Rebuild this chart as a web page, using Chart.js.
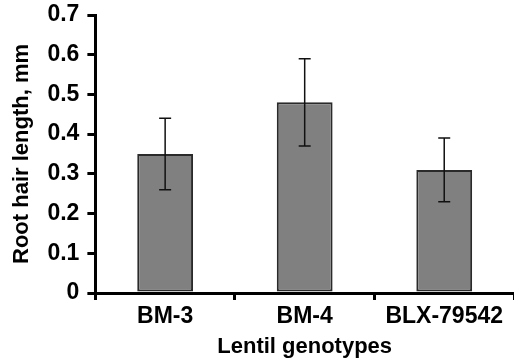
<!DOCTYPE html>
<html>
<head>
<meta charset="utf-8">
<script src="https://cdn.jsdelivr.net/npm/chart.js@4"></script>
<style>
  html, body { margin: 0; padding: 0; background: #fff; }
  #wrap { width: 514px; height: 360px; }
</style>
</head>
<body>
<div id="wrap"><canvas id="myChart" width="514" height="360"></canvas></div>
<script>
// Root hair length per lentil genotype, with error ranges
var genotypes = ['BM-3', 'BM-4', 'BLX-79542'];
var hairLength = [0.35, 0.48, 0.31];
var errLow = [0.26, 0.37, 0.23];
var errHigh = [0.44, 0.59, 0.39];
var yTicks = [0, 0.1, 0.2, 0.3, 0.4, 0.5, 0.6, 0.7];

var fam = 'Liberation Sans, Arial, sans-serif';
var tickFont = { family: fam, size: 23, weight: 'bold' };
var xTitleFont = { family: fam, size: 22, weight: 'bold' };
var yTitleFont = { family: fam, size: 22, weight: 'bold' };

// Draws the error bars from errLow / errHigh
var errorBars = {
    id: 'errorBars',
    afterDatasetsDraw: function (chart) {
        var ctx = chart.ctx;
        var meta = chart.getDatasetMeta(0);
        var y = chart.scales.y;
        ctx.save();
        ctx.strokeStyle = '#111';
        ctx.lineWidth = 1.5;
        meta.data.forEach(function (bar, i) {
            var top = y.getPixelForValue(errHigh[i]);
            var bottom = y.getPixelForValue(errLow[i]);
            ctx.beginPath();
            ctx.moveTo(bar.x, top);
            ctx.lineTo(bar.x, bottom);
            ctx.moveTo(bar.x - 6, top);
            ctx.lineTo(bar.x + 6, top);
            ctx.moveTo(bar.x - 6, bottom);
            ctx.lineTo(bar.x + 6, bottom);
            ctx.stroke();
        });
        ctx.restore();
    }
};

var ctx = document.getElementById('myChart').getContext('2d');
var myChart = new Chart(ctx, {
    type: 'bar',
    data: {
        labels: genotypes,
        datasets: [{
            label: 'Root hair length',
            data: hairLength,
            backgroundColor: '#808080',
            borderColor: '#2a2a2a',
            borderWidth: 2,
            borderSkipped: false,
            barPercentage: 0.5,
            categoryPercentage: 0.8
        }]
    },
    options: {
        responsive: false,
        animation: false,
        layout: { padding: { top: 15, right: -6, left: 9, bottom: 0 } },
        plugins: {
            legend: { display: false },
            tooltip: { enabled: false }
        },
        scales: {
            x: {
                grid: { display: true, drawOnChartArea: false, drawTicks: true, tickLength: 7, color: '#000', lineWidth: 3 },
                border: { display: true, color: '#000', width: 3 },
                ticks: { color: '#000', font: tickFont, padding: 3 },
                title: { display: true, text: 'Lentil genotypes', color: '#000', font: xTitleFont, padding: { top: 0, bottom: 0 } }
            },
            y: {
                min: 0,
                max: 0.7,
                afterBuildTicks: function (axis) {
                    axis.ticks = yTicks.map(function (v) { return { value: v }; });
                },
                afterFit: function (axis) {
                    axis.paddingTop = 0;
                },
                grid: { display: true, drawOnChartArea: false, drawTicks: true, tickLength: 8, color: '#000', lineWidth: 3 },
                border: { display: true, color: '#000', width: 3 },
                ticks: {
                    color: '#000', font: tickFont, padding: 8,
                    callback: function (v) { return v === 0 ? '0' : v.toFixed(1); }
                },
                title: { display: true, text: 'Root hair length, mm', color: '#000', font: yTitleFont, padding: { top: 0, bottom: 4 } }
            }
        }
    },
    plugins: [errorBars]
});
</script>
</body>
</html>
